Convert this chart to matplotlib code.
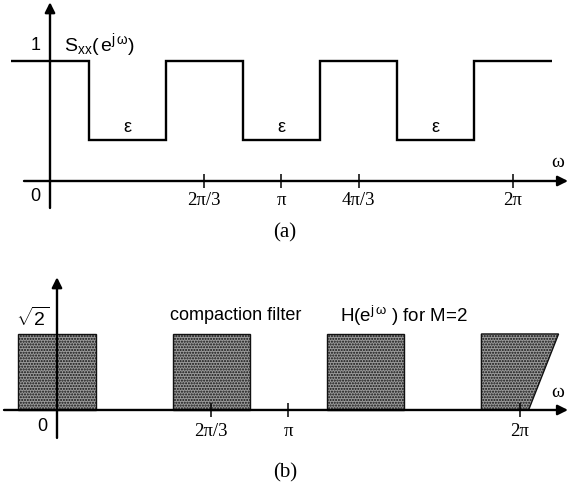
import numpy as np
import matplotlib
matplotlib.use('Agg')
from matplotlib import pyplot as plt

PI = np.pi
EPS = 0.34

# (a) power spectrum S_xx(e^jw): piecewise constant, 1 or eps
sxx_edges = [-PI/6, PI/6, PI/2, 5*PI/6, 7*PI/6, 3*PI/2, 11*PI/6, 13*PI/6]
sxx_levels = [1, EPS, 1, EPS, 1, EPS, 1]
eps_at = [PI/3, PI, 5*PI/3]
top_ticks = [2*PI/3, PI, 4*PI/3, 2*PI]
top_ticklabels = ['2π/3', 'π', '4π/3', '2π']

# (b) compaction filter H(e^jw) for M=2
H_HEIGHT = np.sqrt(2)
h_left = [-PI/6, PI/2, 7*PI/6]
h_right = [PI/6, 5*PI/6, 3*PI/2]
h_last = [11*PI/6, 13*PI/6, 6.40]   # left, top right, bottom right
bot_ticks = [2*PI/3, PI, 2*PI]
bot_ticklabels = ['2π/3', 'π', '2π']

plt.rcParams['font.family'] = ['Liberation Sans', 'DejaVu Sans']
plt.rcParams['mathtext.fontset'] = 'custom'
plt.rcParams['mathtext.rm'] = 'Liberation Sans'
plt.rcParams['mathtext.it'] = 'Liberation Sans:italic'
plt.rcParams['hatch.linewidth'] = 1.0

SERIF = ['Liberation Serif', 'DejaVu Serif']
LW = 1.7
ARROW = dict(arrowstyle='-|>', lw=LW, color='k', mutation_scale=15,
             shrinkA=0, shrinkB=0)
FILL = dict(facecolor='#9a9a9a', edgecolor='#111111', hatch='......',
            lw=1.0, zorder=1)

W, H = 570, 485
fig = plt.figure(figsize=(W/100, H/100), dpi=100)
ax1 = fig.add_axes([0, 1 - 250/H, 1, 250/H])
ax2 = fig.add_axes([0, 0, 1, 235/H])


def setup(ax, xlim, ylim, ticks, labels, pad):
  ax.set_xlim(*xlim)
  ax.set_ylim(*ylim)
  ax.patch.set_alpha(0)
  for s in ['top', 'right', 'left']:
    ax.spines[s].set_visible(False)
  ax.spines['bottom'].set_position(('data', 0))
  ax.spines['bottom'].set_color('none')
  ax.set_yticks([])
  ax.set_xticks(ticks)
  ax.set_xticklabels(labels)
  ax.tick_params(axis='x', direction='inout', length=10, width=1.1,
                 pad=pad, labelsize=13.5)
  for t in ax.get_xticklabels():
    t.set_fontfamily(SERIF)


# ---- (a)
setup(ax1, (-0.6785, 7.0567), (-0.5667, 1.5167), top_ticks, top_ticklabels, 2)
ax1.annotate('', xy=(7.03, 0), xytext=(-0.353, 0), arrowprops=ARROW,
             annotation_clip=False)
ax1.annotate('', xy=(0, 1.49), xytext=(0, -0.225), arrowprops=ARROW,
             annotation_clip=False)
ax1.stairs(sxx_levels, sxx_edges, baseline=None, color='k', lw=LW)
for x in eps_at:
  ax1.text(x, EPS + 0.11, 'ε', ha='center', va='center', fontsize=13)
ax1.text(-0.2, 1.14, '1', ha='center', va='center', fontsize=13)
ax1.text(-0.2, -0.117, '0', ha='center', va='center', fontsize=13)
ax1.text(0.19, 1.14, r'$\mathrm{S_{xx}(\,e^{j\,\omega})}$', ha='left',
         va='center', fontsize=14)
ax1.text(6.89, 0.16, 'ω', ha='center', va='center', fontsize=14,
         family=SERIF)

# ---- (b)
setup(ax2, (-0.7735, 6.962), (-1.377, 2.995), bot_ticks, bot_ticklabels, 4)
ax2.bar(h_left, height=H_HEIGHT, width=np.subtract(h_right, h_left),
        align='edge', **FILL)
ax2.fill([h_last[0], h_last[0], h_last[1], h_last[2]],
         [0, H_HEIGHT, H_HEIGHT, 0], **FILL)
ax2.annotate('', xy=(6.935, 0), xytext=(-0.719, 0), arrowprops=ARROW,
             annotation_clip=False)
ax2.annotate('', xy=(0, 2.47), xytext=(0, -0.52), arrowprops=ARROW,
             annotation_clip=False)
ax2.text(-0.33, 1.72, r'$\sqrt{2}$', ha='center', va='center', fontsize=14)
ax2.text(-0.2, -0.28, '0', ha='center', va='center', fontsize=13)
ax2.text(1.53, 1.77, 'compaction filter', ha='left', va='center',
         fontsize=13)
ax2.text(3.84, 1.77, r'$\mathrm{H(e^{j\,\omega}}\ \text{) for M=2}$',
         ha='left', va='center', fontsize=13.5)
ax2.text(6.80, 0.35, 'ω', ha='center', va='center', fontsize=14,
         family=SERIF)

fig.text(0.5, 1 - 233/H, '(a)', ha='center', va='center', fontsize=15,
         family=SERIF)
fig.text(0.5, 1 - 473/H, '(b)', ha='center', va='center', fontsize=15,
         family=SERIF)

fig.savefig('out.png', dpi=100)
